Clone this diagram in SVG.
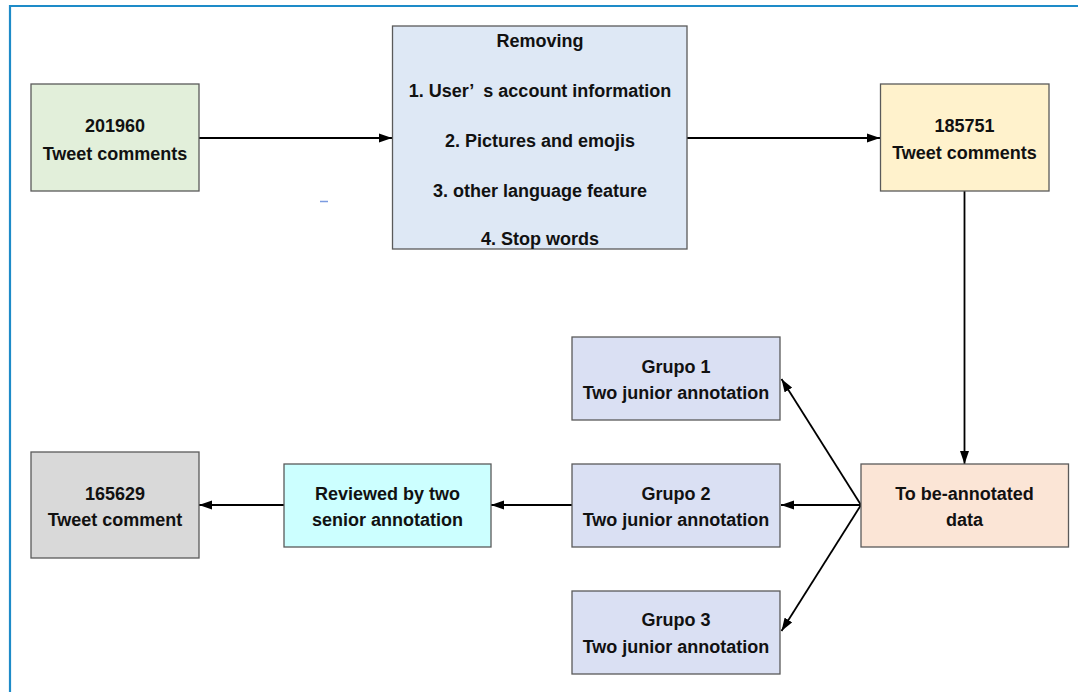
<svg xmlns="http://www.w3.org/2000/svg" width="1078" height="692" viewBox="0 0 1078 692">
  <style>
    .box { stroke: #5a5a5a; stroke-width: 1.3; }
    .lbl { font-family: "Liberation Sans", Arial, sans-serif; font-weight: bold; font-size: 18px; fill: #111; text-anchor: middle; }
    .edge { stroke: #000; stroke-width: 1.8; fill: none; marker-end: url(#arrow); }
    .frame { stroke: #1e8bc8; stroke-width: 2.2; fill: none; }
  </style>
  <defs>
    <marker id="arrow" markerUnits="userSpaceOnUse" markerWidth="14" markerHeight="10" refX="13" refY="5" orient="auto">
      <path d="M0,0.5 L13,5 L0,9.5 Z" fill="#000"/>
    </marker>
  </defs>

  <rect width="1078" height="692" fill="#fff"/>

  <!-- outer frame: top and left edges -->
  <path class="frame" d="M10,692 L10,6 L1078,6"/>

  <!-- stray mark -->
  <line x1="320" y1="201.5" x2="328" y2="201.5" stroke="#7b9be0" stroke-width="1.5"/>

  <g id="connectors">
    <line class="edge" x1="199" y1="138" x2="392" y2="138"/>
    <line class="edge" x1="687" y1="138" x2="880" y2="138"/>
    <line class="edge" x1="964.5" y1="191" x2="964.5" y2="464"/>
    <line class="edge" x1="861" y1="505" x2="781" y2="505"/>
    <line class="edge" x1="861" y1="505" x2="781.5" y2="379"/>
    <line class="edge" x1="861" y1="505" x2="781.5" y2="631"/>
    <line class="edge" x1="572" y1="505" x2="491" y2="505"/>
    <line class="edge" x1="284" y1="505" x2="199" y2="505"/>
  </g>

  <g id="raw-comments">
    <rect class="box" x="31" y="84" width="168" height="107" fill="#e2efda"/>
    <text class="lbl" x="115" y="132">201960</text>
    <text class="lbl" x="115" y="159.5">Tweet comments</text>
  </g>

  <g id="removing">
    <rect class="box" x="392.5" y="26" width="294.5" height="223" fill="#dee8f5"/>
    <text class="lbl" x="540" y="46.5">Removing</text>
    <text class="lbl" x="540" y="97" xml:space="preserve">1. User’  s account information</text>
    <text class="lbl" x="540" y="147">2. Pictures and emojis</text>
    <text class="lbl" x="540" y="196.5">3. other language feature</text>
    <text class="lbl" x="540" y="245">4. Stop words</text>
  </g>

  <g id="cleaned-comments">
    <rect class="box" x="880.5" y="84" width="168.5" height="107" fill="#fff2cc"/>
    <text class="lbl" x="964.5" y="132">185751</text>
    <text class="lbl" x="964.5" y="158.5">Tweet comments</text>
  </g>

  <g id="grupo-1">
    <rect class="box" x="572" y="337" width="208" height="83" fill="#dae0f3"/>
    <text class="lbl" x="676" y="372.5">Grupo 1</text>
    <text class="lbl" x="676" y="399">Two junior annotation</text>
  </g>

  <g id="grupo-2">
    <rect class="box" x="572" y="464" width="208" height="83" fill="#dae0f3"/>
    <text class="lbl" x="676" y="499.5">Grupo 2</text>
    <text class="lbl" x="676" y="526">Two junior annotation</text>
  </g>

  <g id="grupo-3">
    <rect class="box" x="572" y="591" width="208" height="83" fill="#dae0f3"/>
    <text class="lbl" x="676" y="626">Grupo 3</text>
    <text class="lbl" x="676" y="653">Two junior annotation</text>
  </g>

  <g id="to-be-annotated">
    <rect class="box" x="861" y="464" width="207.5" height="83" fill="#fbe5d6"/>
    <text class="lbl" x="964.5" y="499.5">To be-annotated</text>
    <text class="lbl" x="964.5" y="526">data</text>
  </g>

  <g id="senior-review">
    <rect class="box" x="284" y="464" width="207" height="83" fill="#ccffff"/>
    <text class="lbl" x="387.5" y="499.5">Reviewed by two</text>
    <text class="lbl" x="387.5" y="526">senior annotation</text>
  </g>

  <g id="final-comments">
    <rect class="box" x="31" y="452" width="168" height="106" fill="#d9d9d9"/>
    <text class="lbl" x="115" y="499.5">165629</text>
    <text class="lbl" x="115" y="526">Tweet comment</text>
  </g>
</svg>
